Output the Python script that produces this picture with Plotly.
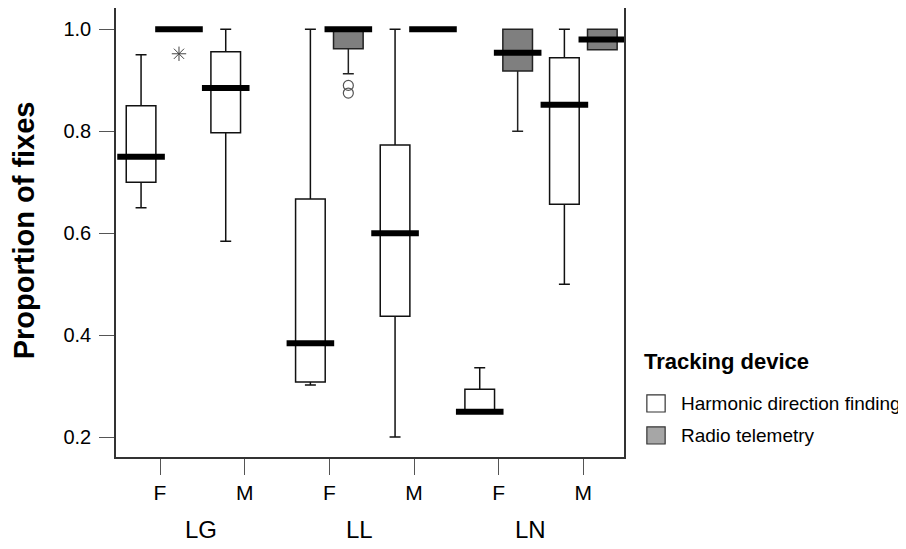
import plotly.graph_objects as go

# ---- data ----
groups = ["LG", "LG", "LL", "LL", "LN", "LN"]
sexes = ["F", "M", "F", "M", "F", "M"]
group_names = ["LG", "LL", "LN"]
group_label_x = [0.48, 2.36, 4.38]

# Harmonic direction finding (white boxes)
hdf_lower = [0.65, 0.584, 0.302, 0.20, 0.25, 0.50]
hdf_q1 = [0.70, 0.797, 0.308, 0.437, 0.25, 0.657]
hdf_median = [0.75, 0.885, 0.384, 0.60, 0.25, 0.852]
hdf_q3 = [0.85, 0.956, 0.667, 0.773, 0.294, 0.944]
hdf_upper = [0.95, 1.0, 1.0, 1.0, 0.336, 1.0]

# Radio telemetry (grey boxes); LG-M has no data
rt_lower = [1.0, None, 0.913, 1.0, 0.80, 0.96]
rt_q1 = [1.0, None, 0.962, 1.0, 0.918, 0.96]
rt_median = [1.0, None, 1.0, 1.0, 0.954, 0.98]
rt_q3 = [1.0, None, 1.0, 1.0, 1.0, 1.0]
rt_upper = [1.0, None, 1.0, 1.0, 1.0, 1.0]

# outliers of the radio telemetry series
rt_star_cat = [0]
rt_star_val = [0.952]
rt_circle_cat = [2, 2]
rt_circle_val = [0.89, 0.875]

yticks = [0.2, 0.4, 0.6, 0.8, 1.0]
ytick_labels = ["0.2", "0.4", "0.6", "0.8", "1.0"]

# ---- styling ----
FONT = "Liberation Sans, Arial, sans-serif"
OFF = 0.224
BOXW = 0.35
GREY = "#7f7f7f"

idx = list(range(len(sexes)))
x_h = [i - OFF for i in idx]
x_r_all = [i + OFF for i in idx]
keep = [i for i in idx if rt_median[i] is not None]
x_r = [x_r_all[i] for i in keep]

fig = go.Figure()

fig.add_trace(go.Box(
    x=x_h, q1=hdf_q1, median=hdf_median, q3=hdf_q3,
    lowerfence=hdf_lower, upperfence=hdf_upper,
    width=BOXW, whiskerwidth=0.37,
    fillcolor="white", line=dict(color="#111", width=1.5),
    name="Harmonic direction finding", showlegend=False, hoverinfo="skip",
))
fig.add_trace(go.Box(
    x=x_r, q1=[rt_q1[i] for i in keep], median=[rt_median[i] for i in keep],
    q3=[rt_q3[i] for i in keep], lowerfence=[rt_lower[i] for i in keep],
    upperfence=[rt_upper[i] for i in keep],
    width=BOXW, whiskerwidth=0.37,
    fillcolor=GREY, line=dict(color="#222", width=1.5),
    name="Radio telemetry", showlegend=False, hoverinfo="skip",
))

# thick median bars
fig.add_trace(go.Scatter(
    x=x_h + x_r, y=hdf_median + [rt_median[i] for i in keep],
    mode="markers",
    marker=dict(symbol="line-ew", size=34, line=dict(width=6, color="black")),
    showlegend=False, hoverinfo="skip",
))

# outliers
fig.add_trace(go.Scatter(
    x=[x_r_all[c] for c in rt_star_cat], y=rt_star_val, mode="markers",
    marker=dict(symbol="asterisk-open", size=12, color="#444",
                line=dict(width=1, color="#444")),
    showlegend=False, hoverinfo="skip",
))
fig.add_trace(go.Scatter(
    x=[x_r_all[c] for c in rt_circle_cat], y=rt_circle_val, mode="markers",
    marker=dict(symbol="circle-open", size=10, color="#555",
                line=dict(width=1.2, color="#555")),
    showlegend=False, hoverinfo="skip",
))

annotations = []
# y-axis title
annotations.append(dict(
    text="<b>Proportion of fixes</b>", xref="paper", yref="paper",
    x=-0.181, y=0.505, xanchor="center", yanchor="middle", textangle=-90,
    showarrow=False, font=dict(family=FONT, size=29, color="black"),
))
# group labels
for g, gx in zip(group_names, group_label_x):
    annotations.append(dict(
        text=g, xref="x", yref="paper", x=gx, y=-0.1604,
        xanchor="center", yanchor="middle", showarrow=False,
        font=dict(family=FONT, size=24, color="black"),
    ))

# manual legend
annotations.append(dict(
    text="<b>Tracking device</b>", xref="paper", yref="paper",
    x=1.035, y=0.2138, xanchor="left", yanchor="middle", showarrow=False,
    font=dict(family=FONT, size=22, color="black"),
))
legend_items = ["Harmonic direction finding", "Radio telemetry"]
legend_fill = ["white", "#a6a6a6"]
legend_y = [0.1192, 0.0479]
shapes = []
for name, fill, ly in zip(legend_items, legend_fill, legend_y):
    shapes.append(dict(
        type="rect", xref="paper", yref="paper",
        x0=1.045, x1=1.081, y0=ly - 0.019, y1=ly + 0.019,
        fillcolor=fill, line=dict(color="#333", width=1.2),
    ))
    annotations.append(dict(
        text=name, xref="paper", yref="paper", x=1.108, y=ly,
        xanchor="left", yanchor="middle", showarrow=False,
        font=dict(family=FONT, size=19, color="black"),
    ))

fig.update_layout(
    width=898, height=541,
    margin=dict(l=108, r=282, t=0, b=92),
    paper_bgcolor="white", plot_bgcolor="white",
    font=dict(family=FONT, color="black"),
    annotations=annotations, shapes=shapes,
    showlegend=False,
)
fig.update_xaxes(
    range=[-0.52, 5.48], tickmode="array", tickvals=idx, ticktext=sexes,
    showline=True, mirror=True, linecolor="#333", linewidth=1.5,
    ticks="outside", ticklen=16, tickcolor="#555", tickwidth=1.2,
    tickfont=dict(family=FONT, size=21, color="black"),
    showgrid=False, zeroline=False, automargin=False,
)
fig.update_yaxes(
    range=[0.161, 1.0418], tickmode="array", tickvals=yticks, ticktext=ytick_labels,
    showline=True, mirror=True, linecolor="#333", linewidth=1.5,
    ticks="outside", ticklen=15, tickcolor="#555", tickwidth=1.2,
    ticklabelstandoff=4,
    tickfont=dict(family=FONT, size=20, color="black"),
    showgrid=False, zeroline=False, automargin=False,
)

fig.write_html("out.html")
